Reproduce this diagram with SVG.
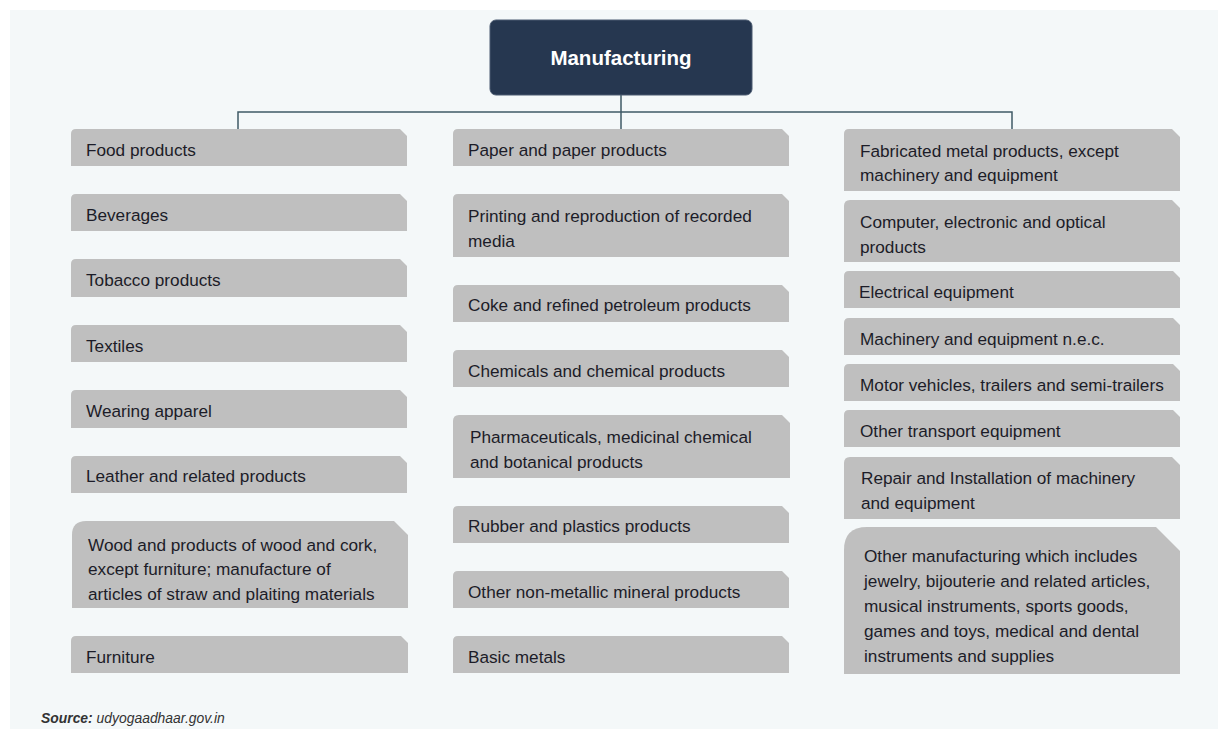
<svg xmlns="http://www.w3.org/2000/svg" width="1218" height="729" viewBox="0 0 1218 729">
<style>
.bg{fill:#f4f8f9}
.box{fill:#bfbfbf}
.t{font-family:"Liberation Sans",Arial,sans-serif;font-size:17.2px;fill:#1c1c28}
.hd{font-family:"Liberation Sans",Arial,sans-serif;font-size:20.5px;font-weight:bold;fill:#ffffff}
.src{font-family:"Liberation Sans",Arial,sans-serif;font-size:13.9px;font-style:italic;fill:#333333}
.con{fill:none;stroke:#3f5a66;stroke-width:1.5}
</style>
<rect x="0" y="0" width="1218" height="729" fill="#ffffff"/>
<rect class="bg" x="10" y="10" width="1208" height="719"/>
<g id="connectors">
<path class="con" d="M621 95V112M238 130V112H1012V130M621 112V130"/>
</g>
<g id="manufacturing">
<rect x="490" y="20" width="262" height="75" rx="6" fill="#263750" stroke="#4a5a70" stroke-width="1"/>
<text class="hd" x="621" y="65" text-anchor="middle">Manufacturing</text>
</g>
<!-- Left column -->
<g id="food"><path class="box" d="M71 134Q71 129 76 129H400L407 136V166H71Z"/><text class="t" x="86" y="156">Food products</text></g>
<g id="beverages"><path class="box" d="M71 199Q71 194 76 194H400L407 201V231H71Z"/><text class="t" x="86" y="221">Beverages</text></g>
<g id="tobacco"><path class="box" d="M71 264Q71 259 76 259H400L407 266V297H71Z"/><text class="t" x="86" y="286">Tobacco products</text></g>
<g id="textiles"><path class="box" d="M71 330Q71 325 76 325H400L407 332V362H71Z"/><text class="t" x="86" y="352">Textiles</text></g>
<g id="wearing"><path class="box" d="M71 395Q71 390 76 390H400L407 397V428H71Z"/><text class="t" x="86" y="417">Wearing apparel</text></g>
<g id="leather"><path class="box" d="M71 461Q71 456 76 456H400L407 463V493H71Z"/><text class="t" x="86" y="482">Leather and related products</text></g>
<g id="wood"><path class="box" d="M72 535Q72 521 86 521H394L408 535V608H72Z"/><text class="t" x="88" y="551">Wood and products of wood and cork,</text><text class="t" x="88" y="575">except furniture; manufacture of</text><text class="t" x="88" y="600">articles of straw and plaiting materials</text></g>
<g id="furniture"><path class="box" d="M71 641Q71 636 76 636H401L408 643V673H71Z"/><text class="t" x="86" y="663">Furniture</text></g>
<!-- Middle column -->
<g id="paper"><path class="box" d="M453 134Q453 129 458 129H782L789 136V166H453Z"/><text class="t" x="468" y="156">Paper and paper products</text></g>
<g id="printing"><path class="box" d="M453 199Q453 194 458 194H782L789 201V257H453Z"/><text class="t" x="468" y="222">Printing and reproduction of recorded</text><text class="t" x="468" y="247">media</text></g>
<g id="coke"><path class="box" d="M453 290Q453 285 458 285H782L789 292V322H453Z"/><text class="t" x="468" y="311">Coke and refined petroleum products</text></g>
<g id="chemicals"><path class="box" d="M453 355Q453 350 458 350H782L789 357V387H453Z"/><text class="t" x="468" y="377">Chemicals and chemical products</text></g>
<g id="pharma"><path class="box" d="M453 421Q453 415 459 415H782L790 423V478H453Z"/><text class="t" x="470" y="443">Pharmaceuticals, medicinal chemical</text><text class="t" x="470" y="468">and botanical products</text></g>
<g id="rubber"><path class="box" d="M453 511Q453 506 458 506H782L789 513V543H453Z"/><text class="t" x="468" y="532">Rubber and plastics products</text></g>
<g id="nonmetallic"><path class="box" d="M453 576Q453 571 458 571H782L789 578V608H453Z"/><text class="t" x="468" y="598">Other non-metallic mineral products</text></g>
<g id="basicmetals"><path class="box" d="M453 641Q453 636 458 636H782L789 643V673H453Z"/><text class="t" x="468" y="663">Basic metals</text></g>
<!-- Right column -->
<g id="fabricated"><path class="box" d="M844 134Q844 129 849 129H1172L1180 137V191H844Z"/><text class="t" x="860" y="157">Fabricated metal products, except</text><text class="t" x="860" y="181">machinery and equipment</text></g>
<g id="computer"><path class="box" d="M844 206Q844 200 850 200H1172L1180 208V262H844Z"/><text class="t" x="860" y="228">Computer, electronic and optical</text><text class="t" x="860" y="253">products</text></g>
<g id="electrical"><path class="box" d="M844 276Q844 271 849 271H1173L1180 278V308H844Z"/><text class="t" x="859" y="298">Electrical equipment</text></g>
<g id="machinery"><path class="box" d="M844 323Q844 318 849 318H1173L1180 325V355H844Z"/><text class="t" x="860" y="345">Machinery and equipment n.e.c.</text></g>
<g id="motor"><path class="box" d="M844 369Q844 364 849 364H1173L1180 371V401H844Z"/><text class="t" x="860" y="391">Motor vehicles, trailers and semi-trailers</text></g>
<g id="transport"><path class="box" d="M844 415Q844 410 849 410H1173L1180 417V447H844Z"/><text class="t" x="860" y="437">Other transport equipment</text></g>
<g id="repair"><path class="box" d="M844 463Q844 457 850 457H1172L1180 465V519H844Z"/><text class="t" x="861" y="484">Repair and Installation of machinery</text><text class="t" x="861" y="509">and equipment</text></g>
<g id="othermfg"><path class="box" d="M844 550Q844 527 867 527H1156L1180 551V674H844Z"/><text class="t" x="864" y="562">Other manufacturing which includes</text><text class="t" x="864" y="587">jewelry, bijouterie and related articles,</text><text class="t" x="864" y="612">musical instruments, sports goods,</text><text class="t" x="864" y="637">games and toys, medical and dental</text><text class="t" x="864" y="662">instruments and supplies</text></g>
<text class="src" x="41" y="723"><tspan font-weight="bold">Source:</tspan> udyogaadhaar.gov.in</text>
</svg>
